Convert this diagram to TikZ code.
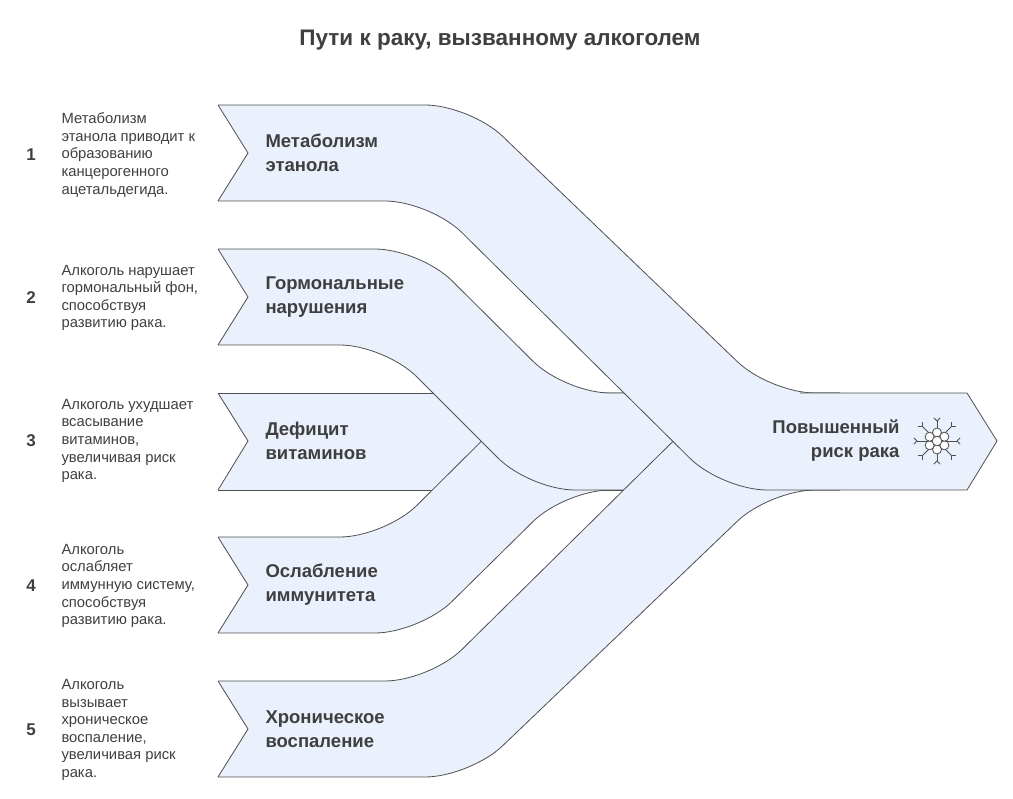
\documentclass[tikz,border=0pt]{standalone}
\usepackage{fontspec}
\setmainfont{Liberation Sans}
\begin{document}
\begin{tikzpicture}[x=1pt,y=-1pt,
  edge/.style={draw=edgec,line width=0.8pt,rounded corners=45pt},
  notch/.style={draw=edgec,line width=0.8pt},
  lbl/.style={anchor=west,align=left,font=\bfseries\fontsize{18.5}{24}\selectfont,text=txtc},
  desc/.style={anchor=west,align=left,font=\fontsize{14.8}{17.6}\selectfont,text=txtc},
  num/.style={font=\bfseries\fontsize{17}{20}\selectfont,text=txtc}]
\definecolor{bandc}{HTML}{EAF0FC}
\definecolor{edgec}{HTML}{505050}
\definecolor{txtc}{HTML}{3F3F3F}
\useasboundingbox (0,0) rectangle (1013,799);
\node[font=\bfseries\fontsize{22.5}{26}\selectfont,text=txtc] (title) at (500,40) {Пути к раку, вызванному алкоголем};
% band 3
\fill[bandc] (218,393) -- (700,393) -- (700,490) -- (218,490) -- (248,441) -- cycle;
\draw[edge] (218,393) -- (700,393);
\draw[edge] (218,490) -- (700,490);
\draw[notch] (218,393) -- (248,441) -- (218,490);
% band 4
\fill[bandc] (300,537) [rounded corners=45pt] -- (385,537) -- (530,393) -- (700,393) -- (700,490) -- (565,490) -- (420,633) -- (300,633) [sharp corners] -- (218,633) -- (248,585) -- (218,537) -- cycle;
\draw[edge] (218,537) -- (385,537) -- (530,393) -- (700,393);
\draw[edge] (218,633) -- (420,633) -- (565,490) -- (700,490);
\draw[notch] (218,537) -- (248,585) -- (218,633);
% band 2
\fill[bandc] (300,249) [rounded corners=45pt] -- (420,249) -- (565,393) -- (700,393) -- (700,490) -- (530,490) -- (385,345) -- (300,345) [sharp corners] -- (218,345) -- (248,297) -- (218,249) -- cycle;
\draw[edge] (218,249) -- (420,249) -- (565,393) -- (700,393);
\draw[edge] (218,345) -- (385,345) -- (530,490) -- (700,490);
\draw[notch] (218,249) -- (248,297) -- (218,345);
% band 5
\fill[bandc] (300,681) [rounded corners=45pt] -- (430,681) -- (722,393) -- (840,393) -- (840,490) -- (770,490) -- (470,777) -- (300,777) [sharp corners] -- (218,777) -- (248,729) -- (218,681) -- cycle;
\draw[edge] (218,681) -- (430,681) -- (722,393) -- (840,393);
\draw[edge] (218,777) -- (470,777) -- (770,490) -- (840,490);
\draw[notch] (218,681) -- (248,729) -- (218,777);
% band 1
\fill[bandc] (300,105) [rounded corners=45pt] -- (470,105) -- (770,393) -- (840,393) -- (840,490) -- (722,490) -- (430,201) -- (300,201) [sharp corners] -- (218,201) -- (248,153) -- (218,105) -- cycle;
\draw[edge] (218,105) -- (470,105) -- (770,393) -- (840,393);
\draw[edge] (218,201) -- (430,201) -- (722,490) -- (840,490);
\draw[notch] (218,105) -- (248,153) -- (218,201);
% final arrow
\fill[bandc] (800,393) -- (967,393) -- (997,441) -- (967,490) -- (800,490) -- cycle;
\draw[notch] (800,393) -- (967,393) -- (997,441) -- (967,490) -- (800,490);
% labels
\node[lbl] (l1) at (262,153) {Метаболизм\\этанола};
\node[lbl] (l2) at (262,297) {Гормональные\\нарушения};
\node[lbl] (l3) at (262,441) {Дефицит\\витаминов};
\node[lbl] (l4) at (262,585) {Ослабление\\иммунитета};
\node[lbl] (l5) at (262,729) {Хроническое\\воспаление};
\node[lbl,anchor=east,align=right] (out) at (903,441) {Повышенный\\риск рака};
% icon
\begin{scope}[shift={(937,441)},draw=edgec,line width=0.8pt]
  \foreach \a in {0,45,...,315}{
    \draw (\a:10) -- (\a:20);
    \draw (\a:20) -- ++(\a+45:4.5);
    \draw (\a:20) -- ++(\a-45:4.5);
  }
  \foreach \a in {0,60,...,300}{\draw[fill=white] (\a+30:8.5) circle (4.5);}
  \draw[fill=white] (0,0) circle (4.8);
\end{scope}
% numbers and descriptions
\node[num] (n1) at (31,155) {1};
\node[num] (n2) at (31,298) {2};
\node[num] (n3) at (31,441) {3};
\node[num] (n4) at (31,586) {4};
\node[num] (n5) at (31,730) {5};
\node[desc] (d1) at (58,155) {Метаболизм\\этанола приводит к\\образованию\\канцерогенного\\ацетальдегида.};
\node[desc] (d2) at (58,298) {Алкоголь нарушает\\гормональный фон,\\способствуя\\развитию рака.};
\node[desc] (d3) at (58,441) {Алкоголь ухудшает\\всасывание\\витаминов,\\увеличивая риск\\рака.};
\node[desc] (d4) at (58,586) {Алкоголь\\ослабляет\\иммунную систему,\\способствуя\\развитию рака.};
\node[desc] (d5) at (58,730) {Алкоголь\\вызывает\\хроническое\\воспаление,\\увеличивая риск\\рака.};
\end{tikzpicture}
\end{document}
